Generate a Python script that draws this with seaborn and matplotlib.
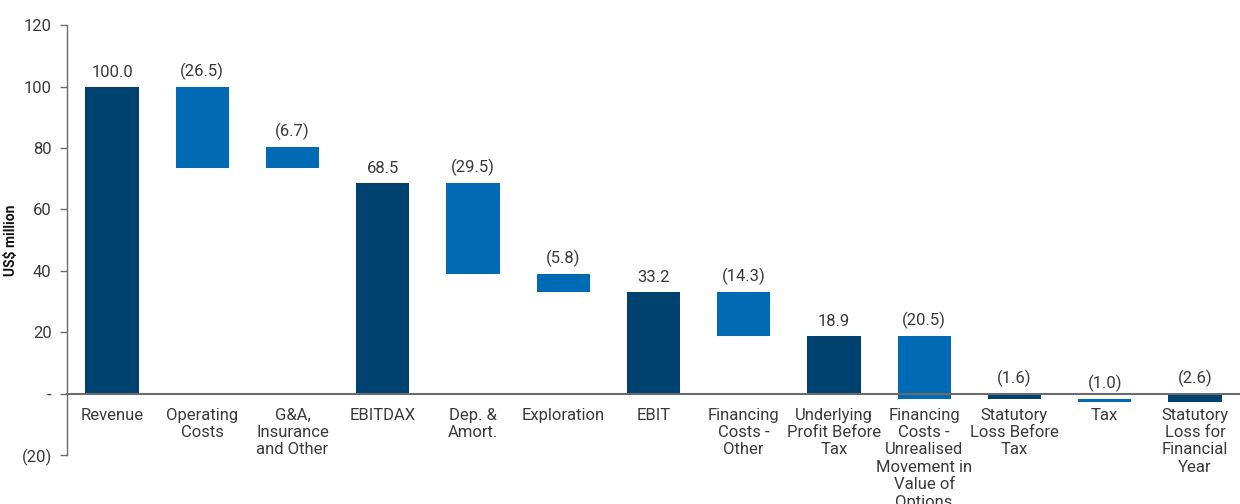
import matplotlib
matplotlib.use('Agg')
import matplotlib.pyplot as plt
import seaborn as sns
import pandas as pd

categories = ['Revenue', 'Operating\nCosts', 'G&A,\nInsurance\nand Other', 'EBITDAX',
              'Dep. &\nAmort.', 'Exploration', 'EBIT', 'Financing\nCosts -\nOther',
              'Underlying\nProfit Before\nTax', 'Financing\nCosts -\nUnrealised\nMovement in\nValue of\nOptions',
              'Statutory\nLoss Before\nTax', 'Tax', 'Statutory\nLoss for\nFinancial\nYear']
bar_bottom = [0, 73.5, 73.5, 0, 39.0, 33.2, 0, 18.9, 0, -1.6, 0, -2.6, 0]
bar_top = [100.0, 100.0, 80.2, 68.5, 68.5, 39.0, 33.2, 33.2, 18.9, 18.9, -1.6, -1.6, -2.6]
value_labels = ['100.0', '(26.5)', '(6.7)', '68.5', '(29.5)', '(5.8)', '33.2', '(14.3)',
                '18.9', '(20.5)', '(1.6)', '(1.0)', '(2.6)']
is_total = [True, False, False, True, False, False, True, False, True, False, True, False, True]
y_ticks = [-20, 0, 20, 40, 60, 80, 100, 120]
y_tick_labels = ['(20)', '-', '20', '40', '60', '80', '100', '120']

DARK = '#00426f'
BLUE = '#006ab4'
TEXT = '#3a3a3a'
GREY = '#6b6b6b'

sns.set_style('white')
plt.rcParams['font.family'] = ['Roboto', 'DejaVu Sans']

df = pd.DataFrame({
    'category': categories,
    'height': [t - b for t, b in zip(bar_top, bar_bottom)],
})

fig = plt.figure(figsize=(12.4, 5.04), dpi=100)
ax = fig.add_axes([0.054, 0.097, 0.946, 0.853])

sns.barplot(data=df, x='category', y='height', bottom=bar_bottom, width=0.59,
            color=BLUE, ax=ax, errorbar=None, saturation=1)
for patch, tot in zip(ax.patches, is_total):
    patch.set_facecolor(DARK if tot else BLUE)
    patch.set_edgecolor('none')

# value labels sit above the bar, or above the zero line for negative totals
for i, (top, lab, tot) in enumerate(zip(bar_top, value_labels, is_total)):
    anchor = max(top, 0) if tot else top
    ax.annotate(lab, xy=(i, anchor), xytext=(0, 5),
                textcoords='offset points', ha='center', va='bottom',
                fontsize=12, color=TEXT)

ax.set_xlim(-0.5, 12.5)
ax.set_ylim(-20, 120)
ax.set_yticks(y_ticks)
ax.set_yticklabels(y_tick_labels)
ax.set_xticks(range(len(categories)))
ax.set_xticklabels(categories, linespacing=1.0)
ax.set_xticks([i + 0.5 for i in range(len(categories) - 1)], minor=True)
ax.tick_params(axis='x', which='major', length=0, pad=10, labelsize=12, labelcolor=TEXT)
ax.tick_params(axis='x', which='minor', length=4, width=1, color=GREY, direction='out')
ax.tick_params(axis='y', length=5, width=1, color=GREY, direction='out', pad=6, left=True,
               labelsize=12, labelcolor=TEXT)

ax.spines['top'].set_visible(False)
ax.spines['right'].set_visible(False)
ax.spines['bottom'].set_position(('data', 0))
ax.spines['bottom'].set_color(GREY)
ax.spines['bottom'].set_linewidth(1.5)
ax.spines['left'].set_color(GREY)
ax.spines['left'].set_linewidth(1)

ax.set_xlabel('')
ax.set_ylabel('US$ million', fontsize=10, fontweight='bold', color='#111111')
ax.yaxis.set_label_coords(-0.042, 0.5)

plt.savefig('out.png', dpi=100)
plt.close()
